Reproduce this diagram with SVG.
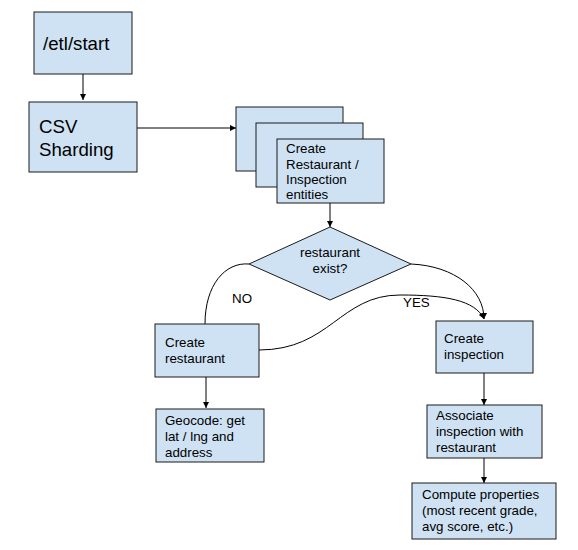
<svg xmlns="http://www.w3.org/2000/svg" width="578" height="550" viewBox="0 0 578 550">
<style>
.box{fill:#cfe2f3;stroke:#1a1a1a;stroke-width:1}
.big{font-family:"Liberation Sans",Arial,sans-serif;font-size:18.67px;fill:#000}
.sm{font-family:"Liberation Sans",Arial,sans-serif;font-size:13.33px;fill:#000}
.ln{fill:none;stroke:#000;stroke-width:1}
</style>
<defs>
<marker id="ah" viewBox="0 0 8 8" refX="8" refY="4" markerWidth="6" markerHeight="6" orient="auto" markerUnits="userSpaceOnUse">
<path d="M0,0 L8,4 L0,8 z" fill="#000"/>
</marker>
</defs>
<rect width="578" height="550" fill="#fff"/>
<g id="connectors">
<path class="ln" d="M83,74 L83,100" marker-end="url(#ah)"/>
<path class="ln" d="M137,128 L236,128" marker-end="url(#ah)"/>
<path class="ln" d="M330,203 L330,227" marker-end="url(#ah)"/>
<path class="ln" d="M249,264 C225,262 205,285 205,324"/>
<path class="ln" d="M411,264 C455,266 484,290 484,319" marker-end="url(#ah)"/>
<path class="ln" d="M259,350 C330,350 340,295 400,295 C445,295 475,300 484,319" marker-end="url(#ah)"/>
<path class="ln" d="M206,377 L206,408" marker-end="url(#ah)"/>
<path class="ln" d="M484,373 L484,405" marker-end="url(#ah)"/>
<path class="ln" d="M484,458 L484,483" marker-end="url(#ah)"/>
</g>
<g id="n-start">
<rect class="box" x="34" y="12" width="98" height="62"/>
<text class="big" x="43" y="50">/etl/start</text>
</g>
<g id="n-csv">
<rect class="box" x="29" y="102" width="108" height="70"/>
<text class="big" x="39" y="133">CSV</text>
<text class="big" x="39" y="156">Sharding</text>
</g>
<g id="n-entities">
<rect class="box" x="236" y="107" width="107" height="64"/>
<rect class="box" x="256" y="123" width="107" height="64"/>
<rect class="box" x="277" y="139" width="107" height="64"/>
<text class="sm" x="286" y="153">Create</text>
<text class="sm" x="286" y="169">Restaurant /</text>
<text class="sm" x="286" y="184">Inspection</text>
<text class="sm" x="286" y="199">entities</text>
</g>
<g id="n-decision">
<polygon class="box" points="330,227 411,264 330,300 249,264"/>
<text class="sm" x="330" y="257" text-anchor="middle">restaurant</text>
<text class="sm" x="330" y="273" text-anchor="middle">exist?</text>
</g>
<g id="labels">
<text class="sm" x="232" y="303">NO</text>
<text class="sm" x="403" y="307">YES</text>
</g>
<g id="n-create-restaurant">
<rect class="box" x="155" y="324" width="104" height="53"/>
<text class="sm" x="165" y="347">Create</text>
<text class="sm" x="165" y="363">restaurant</text>
</g>
<g id="n-geocode">
<rect class="box" x="156" y="409" width="108" height="53"/>
<text class="sm" x="165" y="425">Geocode: get</text>
<text class="sm" x="165" y="441">lat / lng and</text>
<text class="sm" x="165" y="457">address</text>
</g>
<g id="n-create-inspection">
<rect class="box" x="436" y="321" width="97" height="52"/>
<text class="sm" x="444" y="343">Create</text>
<text class="sm" x="444" y="359">inspection</text>
</g>
<g id="n-associate">
<rect class="box" x="427" y="405" width="115" height="53"/>
<text class="sm" x="436" y="420">Associate</text>
<text class="sm" x="436" y="436">inspection with</text>
<text class="sm" x="436" y="452">restaurant</text>
</g>
<g id="n-compute">
<rect class="box" x="412" y="483" width="144" height="56"/>
<text class="sm" x="422" y="499">Compute properties</text>
<text class="sm" x="422" y="515">(most recent grade,</text>
<text class="sm" x="422" y="531">avg score, etc.)</text>
</g>
</svg>
